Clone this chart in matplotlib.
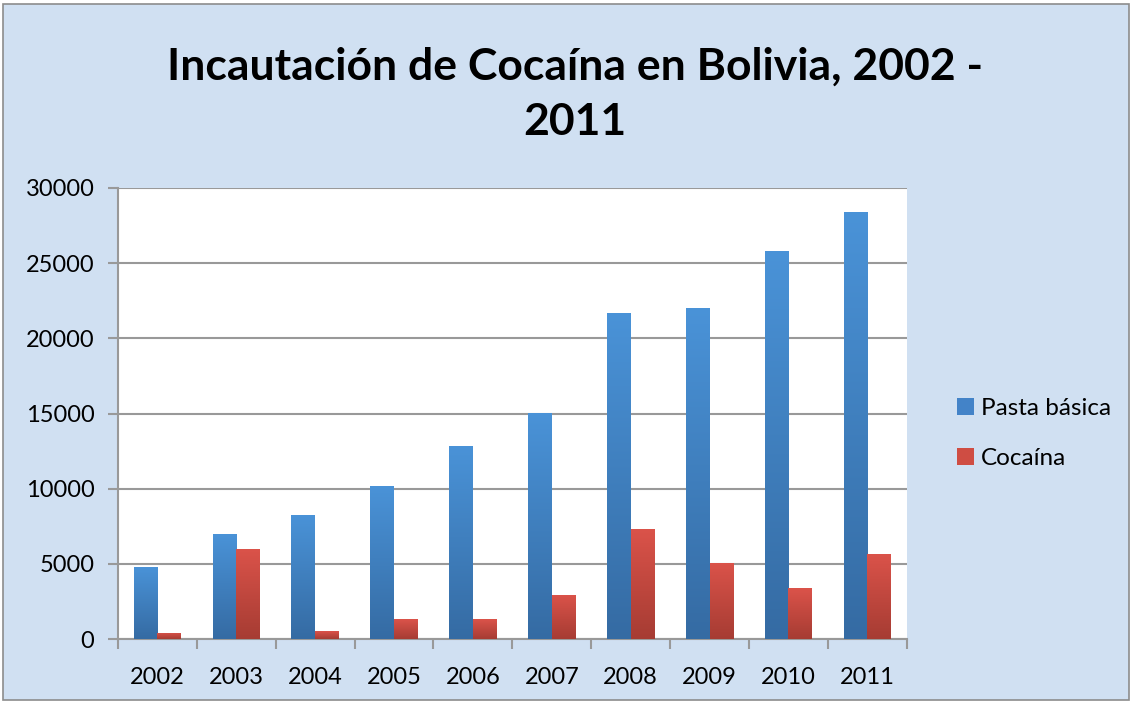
import numpy as np
import matplotlib
matplotlib.use("Agg")
import matplotlib.pyplot as plt
from matplotlib.colors import LinearSegmentedColormap
from matplotlib.patches import Rectangle

years = ["2002", "2003", "2004", "2005", "2006", "2007", "2008", "2009", "2010", "2011"]
pasta_basica = [4800, 7000, 8250, 10180, 12840, 15040, 21690, 22020, 25810, 28410]
cocaina = [400, 5990, 530, 1330, 1330, 2930, 7320, 5060, 3390, 5660]

bg = "#d0e0f2"
plt.rcParams["font.family"] = ["Lato", "DejaVu Sans"]

fig = plt.figure(figsize=(11.32, 7.02), dpi=100, facecolor="white")
fig.patches.append(Rectangle((0.003, 0.003), 0.994, 0.991, transform=fig.transFigure,
                             facecolor=bg, edgecolor="#8c8c8c", lw=1.2, zorder=-5))

ax = fig.add_axes([0.1042, 0.0897, 0.6968, 0.6425])
ax.set_facecolor("white")

x = np.arange(len(years))
w = 0.3
b1 = ax.bar(x - w / 2, pasta_basica, w, color="#4383c8", label="Pasta básica", zorder=2)
b2 = ax.bar(x + w / 2, cocaina, w, color="#cf4d43", label="Cocaína", zorder=2)

# vertical gradient inside each bar
cm_blue = LinearSegmentedColormap.from_list("b", ["#356ba3", "#4a93d8"])
cm_red = LinearSegmentedColormap.from_list("r", ["#a63c33", "#db534a"])
grad = np.linspace(0, 1, 256).reshape(-1, 1)
for bars, cm in ((b1, cm_blue), (b2, cm_red)):
    for p in bars:
        x0, y0 = p.get_x(), p.get_y()
        h = p.get_height()
        im = ax.imshow(grad, cmap=cm, origin="lower", aspect="auto",
                       extent=(x0, x0 + p.get_width(), y0, y0 + h), zorder=3)
        im.set_clip_path(p)
        p.set_alpha(0)

ax.set_xlim(-0.5, len(years) - 0.5)
ax.set_ylim(0, 30000)
ax.set_yticks(range(0, 30001, 5000))
ax.set_xticks(x)
ax.set_xticklabels(years)
ax.set_xticks(np.arange(-0.5, len(years)), minor=True)
ax.tick_params(axis="x", which="major", length=0, pad=20, labelsize=17)
ax.tick_params(axis="x", which="minor", length=7, width=1.5, color="#999999", direction="out")
ax.tick_params(axis="y", length=7, width=1.5, color="#999999", direction="out", pad=10, labelsize=17)
ax.yaxis.grid(True, color="#999999", lw=1.5, zorder=1)
ax.set_axisbelow(True)
for s in ("top", "right"):
    ax.spines[s].set_visible(False)
for s in ("left", "bottom"):
    ax.spines[s].set_color("#999999")
    ax.spines[s].set_linewidth(1.5)

fig.text(0.508, 0.905, "Incautación de Cocaína en Bolivia, 2002 -", ha="center", va="center",
         fontsize=32, fontweight="bold")
fig.text(0.508, 0.826, "2011", ha="center", va="center", fontsize=32, fontweight="bold")

handles = [Rectangle((0, 0), 1, 1, facecolor="#4383c8"), Rectangle((0, 0), 1, 1, facecolor="#cf4d43")]
leg = fig.legend(handles, ["Pasta básica", "Cocaína"], loc="center left",
                 bbox_to_anchor=(0.826, 0.383), frameon=False, fontsize=17.5,
                 handlelength=0.7, handleheight=0.7, handletextpad=0.3, labelspacing=1.2)

fig.savefig("out.png", dpi=100, facecolor="white")
